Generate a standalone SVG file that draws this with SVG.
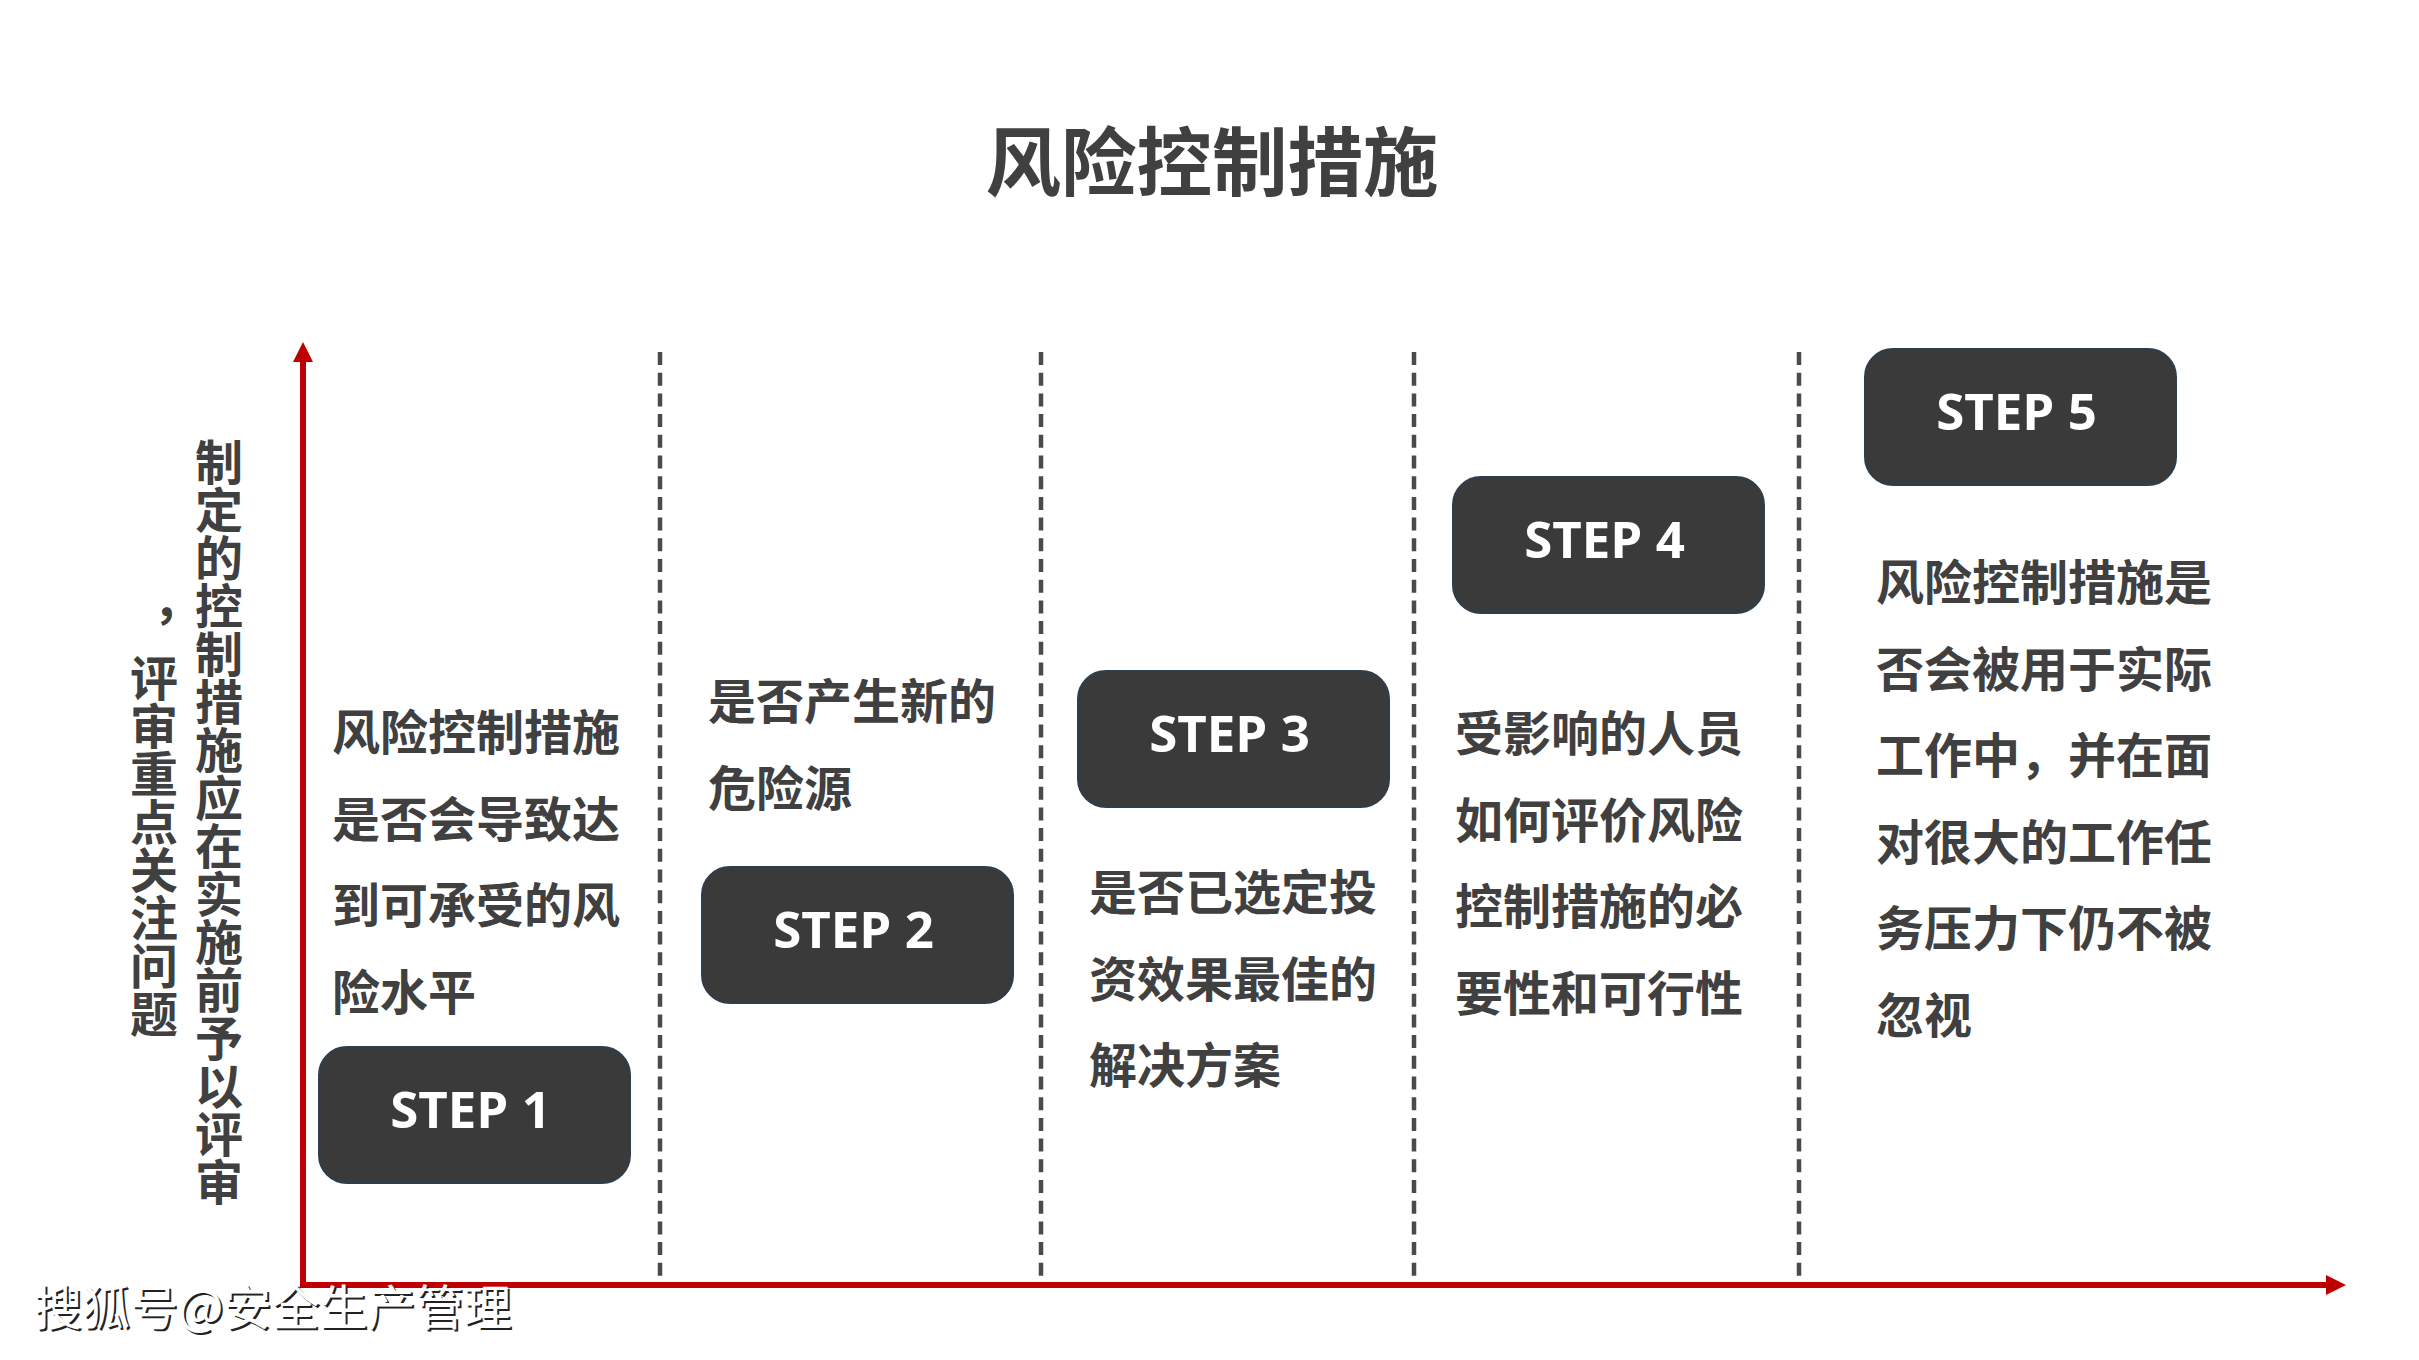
<svg xmlns="http://www.w3.org/2000/svg" width="2419" height="1360" viewBox="0 0 2419 1360">
<style>
.cjk{font-family:"Noto Sans CJK SC","Noto Sans",sans-serif;font-weight:bold;fill:#404040}
.title{font-size:75.5px;text-anchor:middle}
.body{font-size:48px}
.vert{font-size:48px;writing-mode:vertical-rl;text-anchor:middle}
.box{fill:#3a3a3a;stroke:#2f3e4e;stroke-width:2}
.step{font-family:"Open Sans","Liberation Sans",sans-serif;font-weight:bold;font-size:51px;fill:#ffffff;text-anchor:middle}
.dash{stroke:#4a4a4a;stroke-width:4.5;stroke-dasharray:13 7.7;fill:none}
.axis{stroke:#c00000;stroke-width:6;fill:none}
.wm{font-family:"Noto Sans CJK SC","Noto Sans",sans-serif;font-size:48px}
</style>
<rect width="2419" height="1360" fill="#ffffff"/>
<text class="cjk title" x="1212" y="190">风险控制措施</text>
<g id="side-label">
<text class="cjk vert" x="219" y="822">制定的控制措施应在实施前予以评审</text>
<text class="cjk vert" x="154" y="822">，评审重点关注问题</text>
</g>
<g id="connectors">
<line class="dash" x1="660" y1="352" x2="660" y2="1278"/>
<line class="dash" x1="1041" y1="352" x2="1041" y2="1278"/>
<line class="dash" x1="1414" y1="352" x2="1414" y2="1278"/>
<line class="dash" x1="1799" y1="352" x2="1799" y2="1278"/>
<path class="axis" d="M303 358 V1285 H2328"/>
<polygon points="303,342 293,362 313,362" fill="#c00000"/>
<polygon points="2346,1285 2326,1275 2326,1295" fill="#c00000"/>
</g>
<g id="step1">
<rect class="box" x="319" y="1047" width="311" height="136" rx="28"/>
<text class="step" x="470.5" y="1128">STEP 1</text>
<text class="cjk body" x="332" y="750"><tspan x="332">风险控制措施</tspan><tspan x="332" dy="86.5">是否会导致达</tspan><tspan x="332" dy="86.5">到可承受的风</tspan><tspan x="332" dy="86.5">险水平</tspan></text>
</g>
<g id="step2">
<rect class="box" x="702" y="867" width="311" height="136" rx="28"/>
<text class="step" x="853.5" y="948">STEP 2</text>
<text class="cjk body" x="708" y="719"><tspan x="708">是否产生新的</tspan><tspan x="708" dy="86.5">危险源</tspan></text>
</g>
<g id="step3">
<rect class="box" x="1078" y="671" width="311" height="136" rx="28"/>
<text class="step" x="1229.5" y="752">STEP 3</text>
<text class="cjk body" x="1089" y="910"><tspan x="1089">是否已选定投</tspan><tspan x="1089" dy="86.5">资效果最佳的</tspan><tspan x="1089" dy="86.5">解决方案</tspan></text>
</g>
<g id="step4">
<rect class="box" x="1453" y="477" width="311" height="136" rx="28"/>
<text class="step" x="1604.5" y="558">STEP 4</text>
<text class="cjk body" x="1455" y="751"><tspan x="1455">受影响的人员</tspan><tspan x="1455" dy="86.5">如何评价风险</tspan><tspan x="1455" dy="86.5">控制措施的必</tspan><tspan x="1455" dy="86.5">要性和可行性</tspan></text>
</g>
<g id="step5">
<rect class="box" x="1865" y="349" width="311" height="136" rx="28"/>
<text class="step" x="2016.5" y="430">STEP 5</text>
<text class="cjk body" x="1876" y="600"><tspan x="1876">风险控制措施是</tspan><tspan x="1876" dy="86.5">否会被用于实际</tspan><tspan x="1876" dy="86.5">工作中，并在面</tspan><tspan x="1876" dy="86.5">对很大的工作任</tspan><tspan x="1876" dy="86.5">务压力下仍不被</tspan><tspan x="1876" dy="86.5">忽视</tspan></text>
</g>
<g id="watermark">
<text class="wm" x="36" y="1327" fill="#222222">搜狐号@安全生产管理</text>
<text class="wm" x="34" y="1325" fill="#ffffff">搜狐号@安全生产管理</text>
</g>
</svg>
